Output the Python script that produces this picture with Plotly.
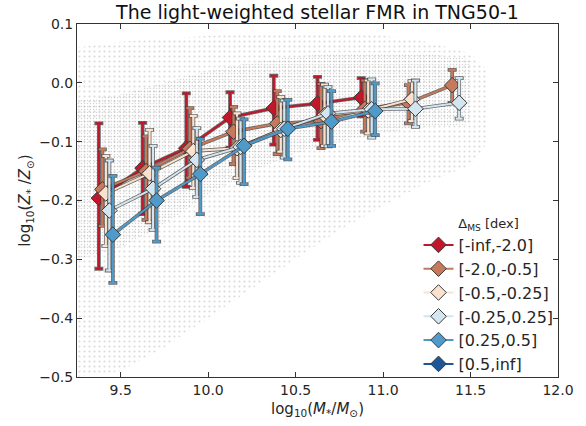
import plotly.graph_objects as go

# ---------------- data ----------------
mass_bins = [9.375, 9.625, 9.875, 10.125, 10.375, 10.625, 10.875, 11.125, 11.375]

labels = ["[-inf,-2.0]", "[-2.0,-0.5]", "[-0.5,-0.25]", "[-0.25,0.25]", "[0.25,0.5]", "[0.5,inf]"]

z_red = [-0.196, -0.145, -0.111, -0.059, -0.043, -0.035, -0.025]
z_red_up = [0.127, 0.077, 0.093, 0.043, 0.055, 0.045, 0.033]
z_red_dn = [0.120, 0.078, 0.066, 0.051, 0.062, 0.062, 0.032]

z_brown = [-0.181, -0.150, -0.112, -0.083, -0.069, -0.065, -0.044, -0.034, -0.004]
z_brown_up = [0.068, 0.059, 0.069, 0.042, 0.055, 0.063, 0.048, 0.030, 0.026]
z_brown_dn = [0.062, 0.083, 0.049, 0.055, 0.052, 0.046, 0.039, 0.035, 0.030]

z_peach = [-0.188, -0.154, -0.116, -0.111, -0.080, -0.055, -0.047, -0.028]
z_peach_up = [0.064, 0.074, 0.060, 0.059, 0.056, 0.052, 0.051, 0.031]
z_peach_dn = [0.089, 0.083, 0.063, 0.051, 0.037, 0.052, 0.039, 0.037]

z_lblue = [-0.217, -0.180, -0.131, -0.109, -0.078, -0.052, -0.045, -0.044, -0.034]
z_lblue_up = [0.085, 0.073, 0.054, 0.048, 0.048, 0.045, 0.051, 0.048, 0.042]
z_lblue_dn = [0.102, 0.070, 0.063, 0.061, 0.049, 0.056, 0.048, 0.031, 0.027]

z_mblue = [-0.258, -0.200, -0.155, -0.107, -0.078, -0.066, -0.048]
z_mblue_up = [0.100, 0.056, 0.060, 0.045, 0.049, 0.052, 0.047]
z_mblue_dn = [0.082, 0.070, 0.068, 0.065, 0.052, 0.041, 0.041]

# the [0.5,inf] bin has no plotted points (legend entry only)
z_dblue = [None]
z_dblue_up = [None]
z_dblue_dn = [None]

# background galaxy cloud, read as envelopes
cloud_x = [9.25, 9.5, 9.75, 10.0, 10.25, 10.5, 10.75, 11.0, 11.25, 11.5, 11.6]
cloud_hi = [0.06, 0.07, 0.075, 0.08, 0.085, 0.085, 0.085, 0.08, 0.07, 0.05, 0.02]
cloud_lo = [-0.5, -0.49, -0.45, -0.40, -0.35, -0.30, -0.25, -0.21, -0.17, -0.14, -0.10]

core_x = [9.25, 9.5, 9.75, 10.0, 10.25, 10.5, 10.75, 11.0, 11.25, 11.5]
core_hi = [-0.03, -0.02, 0.0, 0.02, 0.035, 0.045, 0.05, 0.05, 0.05, 0.04]
core_lo = [-0.30, -0.28, -0.24, -0.19, -0.15, -0.12, -0.10, -0.085, -0.075, -0.07]

x_ticks = [9.5, 10.0, 10.5, 11.0, 11.5, 12.0]
y_ticks = [0.1, 0.0, -0.1, -0.2, -0.3, -0.4, -0.5]

# ---------------- style ----------------
colors = ["#c1172b", "#c7795b", "#fbe2cf", "#d3e5f0", "#4e9bcb", "#1c5798"]
dodge = [0.0, 0.02, 0.04, 0.06, 0.08, 0.10]
series = [
    (z_red, z_red_up, z_red_dn),
    (z_brown, z_brown_up, z_brown_dn),
    (z_peach, z_peach_up, z_peach_dn),
    (z_lblue, z_lblue_up, z_lblue_dn),
    (z_mblue, z_mblue_up, z_mblue_dn),
    (z_dblue, z_dblue_up, z_dblue_dn),
]

fig = go.Figure()

# cloud (speckled texture)
fig.add_trace(go.Scatter(
    x=cloud_x + cloud_x[::-1], y=cloud_hi + cloud_lo[::-1],
    fill="toself", mode="lines", line=dict(width=0),
    fillcolor="rgba(0,0,0,0)",
    fillpattern=dict(shape=".", fgcolor="rgba(120,120,120,0.55)", bgcolor="rgba(0,0,0,0)",
                     size=5, solidity=0.15),
    showlegend=False, hoverinfo="skip"))
fig.add_trace(go.Scatter(
    x=core_x + core_x[::-1], y=core_hi + core_lo[::-1],
    fill="toself", mode="lines", line=dict(width=0),
    fillcolor="rgba(0,0,0,0)",
    fillpattern=dict(shape=".", fgcolor="rgba(110,110,110,0.6)", bgcolor="rgba(0,0,0,0)",
                     size=3, solidity=0.18),
    showlegend=False, hoverinfo="skip"))

edge = "rgba(60,60,60,0.75)"
for i, (z, up, dn) in enumerate(series):
    xs = [mass_bins[k] + dodge[i] for k in range(len(z))]
    # dark outline layer
    fig.add_trace(go.Scatter(
        x=xs, y=z, mode="lines",
        line=dict(color=edge, width=3.6),
        error_y=dict(type="data", symmetric=False, array=up, arrayminus=dn,
                     color=edge, thickness=3.8, width=4.5),
        showlegend=False, hoverinfo="skip"))
    # coloured layer
    fig.add_trace(go.Scatter(
        x=xs, y=z, mode="lines+markers", name=labels[i],
        line=dict(color=colors[i], width=2),
        marker=dict(symbol="diamond", size=12, color=colors[i],
                    line=dict(color="#3a3a3a", width=1)),
        error_y=dict(type="data", symmetric=False, array=up, arrayminus=dn,
                     color=colors[i], thickness=2.2, width=3.5),
        showlegend=True))

axis_common = dict(
    showline=True, linecolor="#333333", linewidth=1, mirror="ticks",
    ticks="inside", ticklen=5, tickcolor="#333333", showgrid=False, zeroline=False,
    tickfont=dict(family="DejaVu Sans", size=14, color="#262626"),
)

fig.update_layout(
    width=586, height=426,
    margin=dict(l=77, r=28, t=24, b=45),
    paper_bgcolor="white", plot_bgcolor="white",
    title=dict(text="The light-weighted stellar FMR in TNG50-1",
               x=0.5, xref="paper", xanchor="center", y=0.970, yanchor="middle",
               font=dict(family="DejaVu Sans", size=19, color="#111111")),
    xaxis=dict(range=[9.25, 12.0], tickvals=x_ticks, tickformat=".1f",
               title=dict(text="log<sub>10</sub>(<i>M</i><sub>*</sub>/<i>M</i><sub>⊙</sub>)",
                          font=dict(family="DejaVu Sans", size=15, color="#262626"),
                          standoff=6),
               **axis_common),
    yaxis=dict(range=[-0.5, 0.1], tickvals=y_ticks, tickformat=".1f",
               title=dict(text="log<sub>10</sub>(<i>Z</i><sub>*</sub> /<i>Z</i><sub>⊙</sub>)",
                          font=dict(family="DejaVu Sans", size=15, color="#262626"),
                          standoff=4),
               **axis_common),
    legend=dict(x=0.71, y=0.47, xanchor="left", yanchor="top",
                bgcolor="rgba(0,0,0,0)", borderwidth=0,
                font=dict(family="DejaVu Sans", size=16, color="#262626"),
                title=dict(text="Δ<sub>MS</sub> [dex]", side="top center",
                           font=dict(family="DejaVu Sans", size=13, color="#262626")),
                tracegroupgap=0),
    showlegend=True,
)

fig.write_html("out.html")
